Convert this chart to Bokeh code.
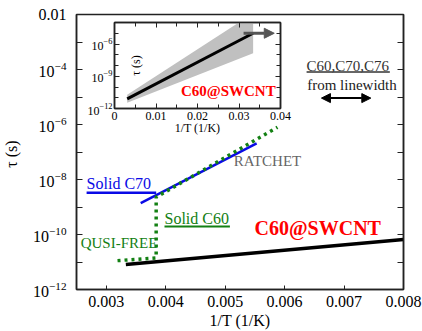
import math
from bokeh.plotting import figure
from bokeh.models import (FixedTicker, LogTickFormatter, LogAxis, LinearAxis, Range1d,
                          Arrow, NormalHead, Label, CustomJSTickFormatter)
from bokeh.embed import file_html
from bokeh.resources import INLINE

# ---------------- data ----------------
swcnt_x = [0.00333, 0.008]
swcnt_tau = [10 ** -11.09, 10 ** -10.18]

c70_flat_x = [0.00267, 0.00384]
c70_flat_tau = [10 ** -8.48, 10 ** -8.48]
c70_slope_x = [0.00358, 0.00553]
c70_slope_tau = [10 ** -8.86, 10 ** -6.69]

c60_x = [0.00319, 0.00384, 0.00384, 0.00588]
c60_tau = [10 ** -10.95, 10 ** -10.85, 10 ** -8.64, 10 ** -6.10]

inset_x = [0.00306, 0.0334]
inset_tau = [10 ** -11.1, 10 ** -5.0]
inset_lo = [10 ** -11.47, 10 ** -6.86]
inset_hi = [10 ** -10.73, 10 ** -3.14]

main_xticks = [0.003, 0.004, 0.005, 0.006, 0.007, 0.008]
main_yticks = [1e-12, 1e-10, 1e-8, 1e-6, 1e-4, 1e-2]
main_yminor = [1e-11, 1e-9, 1e-7, 1e-5, 1e-3]
inset_xticks = [0.0, 0.01, 0.02, 0.03, 0.04]
inset_xminor = [0.005, 0.015, 0.025, 0.035]
inset_yticks = [1e-12, 1e-9, 1e-6]
inset_yminor = [1e-11, 1e-10, 1e-8, 1e-7, 1e-5, 1e-4]

FONT = "Liberation Serif"
AX = "#222222"
GREEN = "#138013"
BLUE = "#0a0ae6"
RED = "#ff0000"


def style_axis(ax, size, ticks_in=6, minor_in=6):
    ax.axis_line_color = AX
    ax.axis_line_width = 1.5
    ax.major_tick_line_color = AX
    ax.minor_tick_line_color = AX
    ax.major_tick_in = ticks_in
    ax.major_tick_out = 0
    ax.minor_tick_in = minor_in
    ax.minor_tick_out = 0
    ax.major_label_text_font = FONT
    ax.major_label_text_font_size = size
    ax.major_label_text_color = "black"
    ax.axis_label_text_font = FONT
    ax.axis_label_text_font_style = "normal"
    ax.axis_label_text_font_size = size
    ax.axis_label_text_color = "black"


# ---------------- main figure ----------------
p = figure(width=422, height=331, y_axis_type="log",
           x_range=Range1d(0.0025, 0.008), y_range=Range1d(1e-12, 1e-2),
           output_backend="svg", toolbar_location=None,
           min_border_left=73, min_border_right=19, min_border_top=14, min_border_bottom=42)
p.grid.visible = False
p.outline_line_color = AX
p.outline_line_width = 1.5
p.background_fill_color = "white"
p.border_fill_color = "white"

p.xaxis.ticker = FixedTicker(ticks=main_xticks)
p.xaxis.axis_label = "1/T (1/K)"
p.yaxis.ticker = FixedTicker(ticks=main_yticks, minor_ticks=main_yminor)
p.yaxis.formatter = LogTickFormatter(min_exponent=3)
p.yaxis.axis_label = "τ  (s)"
for ax in p.xaxis:
    style_axis(ax, "16px", ticks_in=4, minor_in=0)
    ax.major_label_standoff = 6
    ax.axis_label_standoff = 2
for ax in p.yaxis:
    style_axis(ax, "16px")
    ax.major_label_standoff = 10
    ax.axis_label_standoff = 10

right = LogAxis(ticker=FixedTicker(ticks=main_yticks, minor_ticks=main_yminor),
                formatter=CustomJSTickFormatter(code="return ''"))
style_axis(right, "1px")
p.add_layout(right, "right")

# lines
p.line(swcnt_x, swcnt_tau, line_color="black", line_width=3.5)
p.line(c70_flat_x, c70_flat_tau, line_color=BLUE, line_width=2.5)
p.line(c70_slope_x, c70_slope_tau, line_color=BLUE, line_width=2.5)
p.line(c60_x, c60_tau, line_color=GREEN, line_width=3.5, line_dash="3 4")

# labels
def lab(fig, x, y, text, color, size, bold=False):
    fig.add_layout(Label(x=x, y=y, text=text, text_color=color, text_font=FONT,
                         text_font_size=size, text_baseline="middle",
                         text_font_style="bold" if bold else "normal"))

lab(p, 0.00267, 10 ** -8.16, "Solid C70", BLUE, "16px")
lab(p, 0.00398, 10 ** -9.41, "Solid C60", GREEN, "16px")
p.line([0.00398, 0.00508], [10 ** -9.71, 10 ** -9.71], line_color=GREEN, line_width=2)
lab(p, 0.00257, 10 ** -10.32, "QUSI-FREE", GREEN, "15px")
lab(p, 0.005145, 10 ** -7.31, "RATCHET", "#666666", "15px")
lab(p, 0.005495, 10 ** -9.78, "C60@SWCNT", RED, "20px", bold=True)
lab(p, 0.00637, 10 ** -3.89, "C60,C70,C76", "#333333", "15px")
p.line([0.00637, 0.00777], [10 ** -4.09, 10 ** -4.09], line_color="#666666", line_width=2)
lab(p, 0.00638, 10 ** -4.58, "from linewidth", "#222222", "15px")
p.add_layout(Arrow(start=NormalHead(size=9, fill_color="black", line_color="black"),
                   end=NormalHead(size=9, fill_color="black", line_color="black"),
                   x_start=0.00662, y_start=10 ** -5.04, x_end=0.00745, y_end=10 ** -5.04,
                   line_color="black", line_width=2))

# ---------------- inset ----------------
q = figure(frame_width=166, frame_height=86, y_axis_type="log",
           x_range=Range1d(0.0, 0.04), y_range=Range1d(1e-12, 1e-4),
           output_backend="svg", toolbar_location=None,
           min_border_left=50, min_border_right=12, min_border_top=4, min_border_bottom=34,
           styles={"position": "absolute", "left": "64px", "top": "18px"})
q.grid.visible = False
q.outline_line_color = AX
q.outline_line_width = 1.5
q.background_fill_color = "white"
q.border_fill_alpha = 0.0

q.xaxis.ticker = FixedTicker(ticks=inset_xticks, minor_ticks=inset_xminor)
q.xaxis.axis_label = "1/T (1/K)"
q.yaxis.ticker = FixedTicker(ticks=inset_yticks, minor_ticks=inset_yminor)
q.yaxis.formatter = LogTickFormatter(min_exponent=3)
for ax in list(q.xaxis) + list(q.yaxis):
    style_axis(ax, "12px", ticks_in=5, minor_in=4)
    ax.major_label_standoff = 3
for ax in q.xaxis:
    ax.axis_label_standoff = -2
for ax in q.yaxis:
    ax.major_label_standoff = 2

# inset y-axis title, centred on the inset frame
q.add_layout(Label(x=21, y=10 ** -8, x_units="screen", y_units="data", text="τ (s)",
                   angle=math.pi / 2, text_align="center", text_baseline="middle",
                   text_font=FONT, text_font_size="12px", text_color="black"))

q_right = LogAxis(ticker=FixedTicker(ticks=inset_yticks, minor_ticks=inset_yminor),
                  formatter=CustomJSTickFormatter(code="return ''"))
style_axis(q_right, "1px", ticks_in=5, minor_in=4)
q.add_layout(q_right, "right")
q_top = LinearAxis(ticker=FixedTicker(ticks=inset_xticks, minor_ticks=inset_xminor),
                   formatter=CustomJSTickFormatter(code="return ''"))
style_axis(q_top, "1px", ticks_in=5, minor_in=4)
q.add_layout(q_top, "above")

q.varea(x=inset_x, y1=inset_lo, y2=inset_hi, fill_color="#c0c0c0")
q.line(inset_x, inset_tau, line_color="black", line_width=3)
q.add_layout(Arrow(end=NormalHead(size=10, fill_color="#555555", line_color="#555555"),
                   start=None, x_start=0.0311, y_start=10 ** -5.0, x_end=0.0385, y_end=10 ** -5.0,
                   line_color="#555555", line_width=3))
lab(q, 0.0160, 10 ** -10.4, "C60@SWCNT", RED, "15px", bold=True)

open("out.html", "w").write(file_html([p, q], INLINE))
